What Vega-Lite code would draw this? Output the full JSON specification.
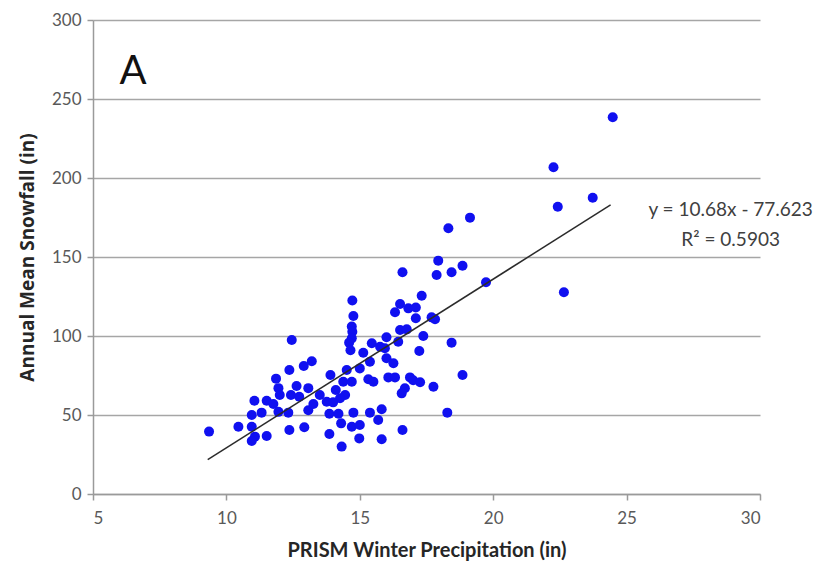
{
  "$schema": "https://vega.github.io/schema/vega-lite/v6.json",
  "width": 667,
  "height": 474,
  "autosize": {"type": "none"},
  "padding": {"left": 93, "top": 20, "right": 56, "bottom": 81},
  "background": "white",
  "config": {
    "view": {"stroke": null},
    "font": "Lato",
    "axis": {
      "labelFont": "Lato",
      "titleFont": "Lato",
      "domainColor": "#9a9a9a",
      "domainWidth": 1.5,
      "tickColor": "#9a9a9a",
      "tickWidth": 1.5,
      "tickSize": 6,
      "gridColor": "#a6a6a6",
      "gridWidth": 1.5,
      "labelColor": "#595959",
      "labelFontSize": 17,
      "titleColor": "#262626",
      "titleFontSize": 20,
      "titleFontWeight": "bold"
    }
  },
  "datasets": {
    "pts": [
      {"precip": 12.45, "snow": 97.5}, {"precip": 13.2, "snow": 84}, {"precip": 12.9, "snow": 81}, {"precip": 12.36, "snow": 78.5},
      {"precip": 11.86, "snow": 73}, {"precip": 11.95, "snow": 67}, {"precip": 12.63, "snow": 68.4}, {"precip": 13.07, "snow": 67},
      {"precip": 12.42, "snow": 62.7}, {"precip": 12.73, "snow": 61.6}, {"precip": 12.0, "snow": 62.7}, {"precip": 11.05, "snow": 59},
      {"precip": 11.51, "snow": 59}, {"precip": 11.76, "snow": 57}, {"precip": 11.32, "snow": 51.5}, {"precip": 10.95, "snow": 50},
      {"precip": 11.95, "snow": 52}, {"precip": 12.32, "snow": 51.5}, {"precip": 13.07, "snow": 53}, {"precip": 13.26, "snow": 57},
      {"precip": 9.35, "snow": 39.5}, {"precip": 10.45, "snow": 42.6}, {"precip": 10.95, "snow": 42.6}, {"precip": 11.07, "snow": 36.3},
      {"precip": 10.95, "snow": 33.5}, {"precip": 11.51, "snow": 36.7}, {"precip": 12.36, "snow": 40.5}, {"precip": 12.92, "snow": 42.2},
      {"precip": 13.86, "snow": 38}, {"precip": 14.32, "snow": 30}, {"precip": 13.9, "snow": 75.3}, {"precip": 13.5, "snow": 62.7},
      {"precip": 13.76, "snow": 58.4}, {"precip": 13.86, "snow": 50.8}, {"precip": 14.2, "snow": 50.8}, {"precip": 14.3, "snow": 44.7},
      {"precip": 14.72, "snow": 122.5}, {"precip": 14.76, "snow": 112.7}, {"precip": 14.7, "snow": 106}, {"precip": 14.72, "snow": 102.7},
      {"precip": 14.7, "snow": 98.5}, {"precip": 14.6, "snow": 95.8}, {"precip": 14.65, "snow": 91}, {"precip": 17.32, "snow": 125.5},
      {"precip": 16.51, "snow": 120.3}, {"precip": 16.32, "snow": 115}, {"precip": 16.82, "snow": 117.5}, {"precip": 17.1, "snow": 118},
      {"precip": 17.1, "snow": 111.2}, {"precip": 17.69, "snow": 111.8}, {"precip": 17.82, "snow": 110.6}, {"precip": 16.51, "snow": 103.8},
      {"precip": 16.76, "snow": 104.2}, {"precip": 17.38, "snow": 100}, {"precip": 18.44, "snow": 95.8}, {"precip": 16.0, "snow": 99.2},
      {"precip": 15.45, "snow": 95.4}, {"precip": 15.76, "snow": 93.2}, {"precip": 15.94, "snow": 92.2}, {"precip": 16.44, "snow": 96.4},
      {"precip": 15.13, "snow": 89.4}, {"precip": 17.23, "snow": 90.5}, {"precip": 15.38, "snow": 83.7}, {"precip": 16.0, "snow": 85.9},
      {"precip": 16.26, "snow": 82.7}, {"precip": 15.0, "snow": 79.5}, {"precip": 14.51, "snow": 78.5}, {"precip": 15.32, "snow": 72.6},
      {"precip": 15.51, "snow": 71.1}, {"precip": 16.07, "snow": 73.8}, {"precip": 16.32, "snow": 73.8}, {"precip": 16.88, "snow": 73.8},
      {"precip": 17.0, "snow": 72}, {"precip": 17.26, "snow": 70.7}, {"precip": 17.76, "snow": 67.9}, {"precip": 16.69, "snow": 66.9},
      {"precip": 16.57, "snow": 63.7}, {"precip": 18.85, "snow": 75.3}, {"precip": 14.38, "snow": 71.1}, {"precip": 14.7, "snow": 71.1},
      {"precip": 14.1, "snow": 65.8}, {"precip": 14.45, "snow": 62.7}, {"precip": 14.26, "snow": 60.6}, {"precip": 14.0, "snow": 58},
      {"precip": 14.76, "snow": 51.5}, {"precip": 15.38, "snow": 51.5}, {"precip": 15.82, "snow": 53.6}, {"precip": 15.69, "snow": 46.8},
      {"precip": 18.28, "snow": 51.5}, {"precip": 14.7, "snow": 42.6}, {"precip": 15.0, "snow": 43.7}, {"precip": 14.98, "snow": 35.2},
      {"precip": 15.82, "snow": 34.6}, {"precip": 16.6, "snow": 40.5}, {"precip": 22.26, "snow": 206.8}, {"precip": 22.42, "snow": 181.8},
      {"precip": 23.73, "snow": 187.5}, {"precip": 19.13, "snow": 174.9}, {"precip": 18.32, "snow": 168.2}, {"precip": 17.94, "snow": 147.7},
      {"precip": 17.88, "snow": 138.6}, {"precip": 18.44, "snow": 140.3}, {"precip": 18.85, "snow": 144.5}, {"precip": 16.6, "snow": 140.3},
      {"precip": 19.73, "snow": 134}, {"precip": 22.65, "snow": 127.7}, {"precip": 24.48, "snow": 238.5}
    ],
    "trend": [
      {"precip": 9.3, "snow": 21.7},
      {"precip": 24.4, "snow": 183.0}
    ],
    "eq": [
      {"precip": 28.9, "snow": 180, "label": "y = 10.68x - 77.623"},
      {"precip": 28.9, "snow": 161, "label": "R² = 0.5903"}
    ],
    "panel": [
      {"precip": 6.5, "snow": 267, "label": "A"}
    ]
  },
  "layer": [
    {
      "data": {"name": "pts"},
      "mark": {"type": "point", "filled": true, "shape": "circle", "size": 100, "color": "#1010f0", "opacity": 1},
      "encoding": {
        "x": {
          "field": "precip", "type": "quantitative",
          "scale": {"domain": [5, 30], "nice": false, "zero": false},
          "axis": {"title": "PRISM Winter Precipitation (in)", "values": [5, 10, 15, 20, 25, 30], "grid": false, "labelPadding": 10, "titlePadding": 14}
        },
        "y": {
          "field": "snow", "type": "quantitative",
          "scale": {"domain": [0, 300], "nice": false},
          "axis": {"title": "Annual Mean Snowfall (in)", "titleFont": "Open Sans", "titleFontSize": 19, "values": [0, 50, 100, 150, 200, 250, 300], "grid": true, "labelPadding": 6, "titlePadding": 14}
        }
      }
    },
    {
      "data": {"name": "trend"},
      "mark": {"type": "line", "color": "#2b2b2b", "strokeWidth": 1.5},
      "encoding": {
        "x": {"field": "precip", "type": "quantitative"},
        "y": {"field": "snow", "type": "quantitative"}
      }
    },
    {
      "data": {"name": "eq"},
      "mark": {"type": "text", "fontSize": 19, "color": "#404040", "align": "center", "baseline": "middle", "font": "Lato"},
      "encoding": {
        "x": {"field": "precip", "type": "quantitative"},
        "y": {"field": "snow", "type": "quantitative"},
        "text": {"field": "label"}
      }
    },
    {
      "data": {"name": "panel"},
      "mark": {"type": "text", "fontSize": 40, "color": "#111111", "align": "center", "baseline": "middle", "font": "Lato"},
      "encoding": {
        "x": {"field": "precip", "type": "quantitative"},
        "y": {"field": "snow", "type": "quantitative"},
        "text": {"field": "label"}
      }
    }
  ]
}
